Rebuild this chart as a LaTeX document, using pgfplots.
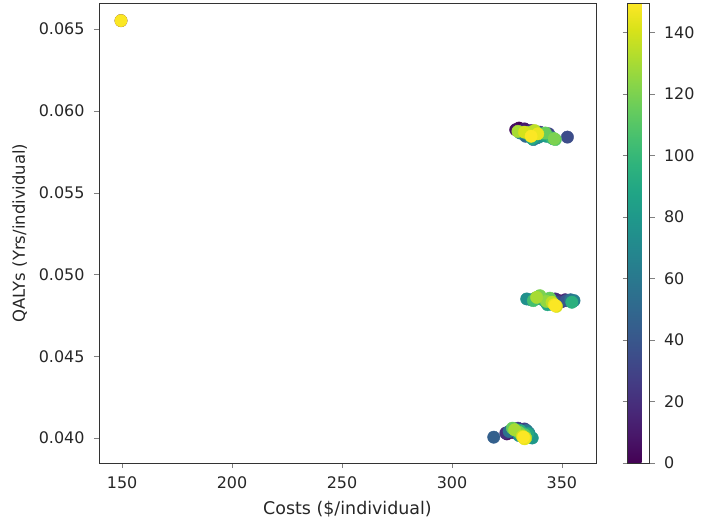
\documentclass[border=0pt]{standalone}
\usepackage{fontspec}
\setmainfont{DejaVu Sans}
\usepackage{pgfplots}
\usepackage{pgfplotstable}
\pgfplotsset{compat=1.18}
\pgfplotstableread{
x y c
149.5 0.06552 0
149.5 0.06552 149
330.5 0.05895 0
348.5 0.04840 0
329.0 0.04030 0
329.0 0.05885 5
350.0 0.04835 5
325.0 0.04025 5
333.0 0.05890 10
345.0 0.04830 10
331.0 0.04050 10
336.0 0.05880 15
351.5 0.04845 15
327.0 0.04035 15
331.5 0.05875 20
347.0 0.04850 20
324.5 0.04030 20
340.0 0.05870 25
342.0 0.04845 25
330.0 0.04060 25
344.0 0.05860 30
349.0 0.04830 30
333.0 0.04055 30
352.5 0.05840 35
344.0 0.04840 35
328.0 0.04045 35
335.0 0.05850 40
352.0 0.04840 40
331.5 0.04020 40
338.5 0.05835 45
346.0 0.04835 45
319.0 0.04005 45
333.5 0.05845 50
340.5 0.04850 50
332.0 0.04035 50
342.0 0.05850 55
354.0 0.04845 55
326.0 0.04040 55
337.0 0.05825 60
343.0 0.04825 60
334.0 0.04045 60
346.0 0.05830 65
355.5 0.04840 65
329.5 0.04050 65
331.0 0.05865 70
336.0 0.04845 70
335.0 0.04030 70
339.5 0.05840 75
334.0 0.04850 75
330.5 0.04015 75
334.5 0.05855 80
345.0 0.04820 80
336.5 0.04000 80
343.0 0.05845 85
338.0 0.04855 85
333.5 0.04010 85
336.5 0.05830 90
343.5 0.04815 90
334.5 0.04025 90
341.0 0.05860 95
354.5 0.04830 95
331.0 0.04045 95
345.5 0.05835 100
341.5 0.04845 100
332.5 0.04005 100
338.0 0.05875 105
337.0 0.04840 105
328.0 0.04055 105
347.0 0.05825 110
339.5 0.04865 110
333.0 0.04020 110
342.5 0.05865 115
344.5 0.04855 115
327.5 0.04060 115
346.5 0.05830 120
340.0 0.04870 120
330.5 0.04035 120
335.5 0.05870 125
343.0 0.04835 125
332.0 0.04015 125
330.0 0.05875 130
338.5 0.04860 130
328.5 0.04050 130
337.5 0.05880 135
345.5 0.04830 135
333.5 0.04000 135
333.0 0.05870 140
347.5 0.04805 140
332.0 0.04010 140
339.0 0.05860 145
346.5 0.04815 145
333.0 0.03995 145
336.0 0.05845 149
347.0 0.04810 149
332.5 0.04005 149
}\data
\begin{document}
\begin{tikzpicture}
\begin{axis}[
  name=main,
  scale only axis,
  width=497bp, height=460bp,
  xmin=139.5, xmax=365.5,
  ymin=0.03847, ymax=0.0666,
  xtick={150,200,...,350},
  ytick={0.040,0.045,...,0.066},
  scaled y ticks=false,
  /pgf/number format/assume math mode=true,
  tick align=outside,
  major tick length=5bp,
  xtick pos=bottom, ytick pos=left,
  tick label style={font=\fontsize{16}{18}\selectfont, color=black!85},
  xticklabel style={yshift=-5bp},
  yticklabel style={xshift=-6bp, /pgf/number format/.cd, fixed, fixed zerofill, precision=3},
  xlabel style={font=\fontsize{17.5}{20}\selectfont, color=black!85, yshift=-6bp},
  ylabel style={font=\fontsize{16.5}{19}\selectfont, color=black!85, yshift=5bp},
  xlabel={Costs (\$/individual)},
  ylabel={QALYs (Yrs/individual)},
  axis line style={black!80, line width=0.8bp},
  colormap name=viridis,
  point meta min=0, point meta max=149.5,
  colorbar,
  colorbar style={
    at={(parent axis.north east)}, anchor=north west, xshift=23bp,
    width=22bp,
    ytick={0,20,...,140},
    yticklabel style={font=\fontsize{16}{18}\selectfont, color=black!85, xshift=6bp},
    /pgf/number format/assume math mode=true,
    tick align=outside, major tick length=5bp,
    axis line style={black!80, line width=0.8bp},
  },
]
\addplot[scatter, only marks, mark=*, mark size=6.2bp,
  scatter src=explicit,
  scatter/use mapped color={draw=mapped color, fill=mapped color}]
  table[x=x, y=y, meta=c] {\data};
\end{axis}
\path ([xshift=-99bp,yshift=-58bp]main.south west) rectangle ([xshift=118bp,yshift=3bp]main.north east);
\end{tikzpicture}
\end{document}
